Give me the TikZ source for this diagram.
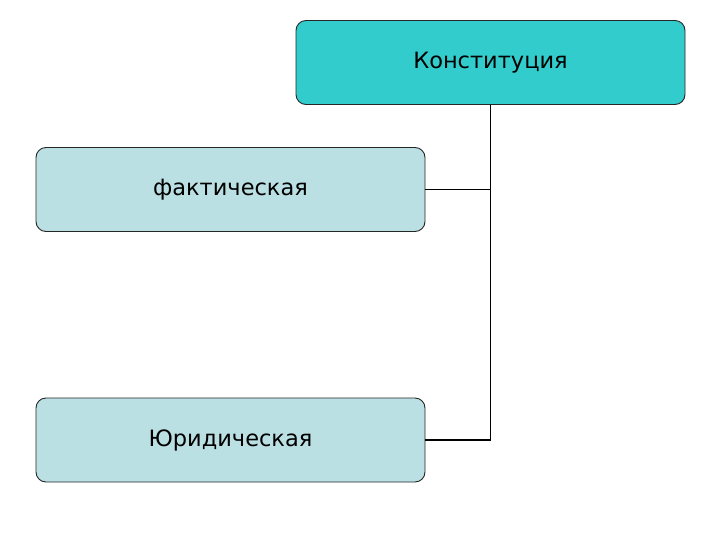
\documentclass[tikz,border=0pt]{standalone}
\usepackage{fontspec}
\setmainfont{DejaVu Sans}
\definecolor{headfill}{HTML}{33CCCC}
\definecolor{itemfill}{HTML}{BBE0E3}
\tikzset{
  box/.style={draw=black!85,line width=0.9pt,rounded corners=10pt,minimum width=389pt,minimum height=84pt,inner sep=0pt,font=\fontsize{22.5}{27}\selectfont},
}
\begin{document}
\begin{tikzpicture}[x=1pt,y=-1pt]
\useasboundingbox(0,0)rectangle(720,540);
\node[box,fill=headfill](konst)at(490.5,62.5){Конституция};%верх
\node[box,fill=itemfill](fakt)at(230.5,189.5){фактическая};
\node[box,fill=itemfill](jurid)at(230.5,440){Юридическая};
\draw[line width=1.8pt](konst.south)|-(fakt.east);
\draw[line width=1.8pt](konst.south)|-(jurid.east);
\end{tikzpicture}
\end{document}
